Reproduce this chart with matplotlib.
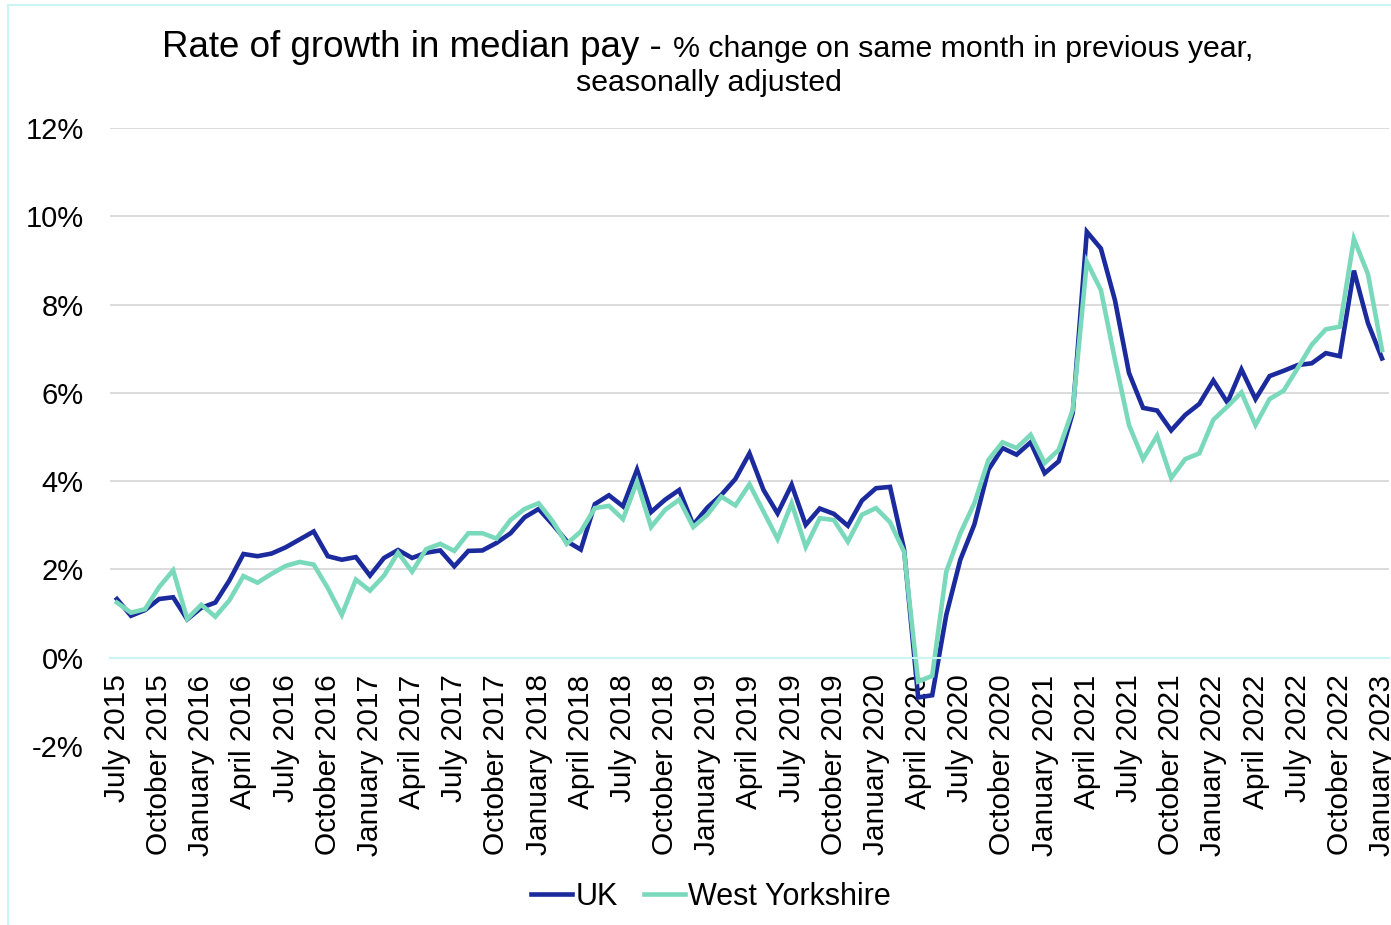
import matplotlib
matplotlib.use("Agg")
import matplotlib.pyplot as plt
import pandas as pd
import numpy as np

plt.rcParams['font.family'] = ['Liberation Sans', 'DejaVu Sans']

# monthly, July 2015 to January 2023
months = pd.period_range("2015-07", "2023-01", freq="M")
month_labels = [p.strftime("%B %Y") for p in months]

uk = [1.33, 0.95, 1.08, 1.33, 1.37, 0.87, 1.13, 1.25, 1.75, 2.35,
      2.30, 2.36, 2.50, 2.68, 2.86, 2.30, 2.22, 2.28, 1.86, 2.26,
      2.44, 2.26, 2.38, 2.43, 2.07, 2.42, 2.43, 2.60, 2.82, 3.18,
      3.37, 3.02, 2.64, 2.45, 3.48, 3.68, 3.43, 4.26, 3.30, 3.58,
      3.80, 3.01, 3.40, 3.69, 4.05, 4.63, 3.80, 3.27, 3.92, 3.01,
      3.38, 3.26, 2.99, 3.56, 3.84, 3.87, 2.45, -0.90, -0.85, 0.97,
      2.22, 3.02, 4.26, 4.75, 4.60, 4.88, 4.18, 4.45, 5.55, 9.65,
      9.27, 8.10, 6.45, 5.66, 5.60, 5.15, 5.50, 5.75, 6.28, 5.78,
      6.53, 5.86, 6.38, 6.50, 6.63, 6.67, 6.90, 6.83, 8.77, 7.58,
      6.78]

west_yorkshire = [1.25, 1.02, 1.10, 1.60, 1.98, 0.88, 1.20, 0.93, 1.30, 1.85,
                  1.70, 1.90, 2.08, 2.17, 2.11, 1.58, 0.97, 1.77, 1.52, 1.86,
                  2.38, 1.95, 2.46, 2.58, 2.42, 2.82, 2.82, 2.70, 3.12, 3.37,
                  3.50, 3.09, 2.58, 2.86, 3.39, 3.44, 3.14, 3.99, 2.96, 3.35,
                  3.58, 2.96, 3.24, 3.65, 3.45, 3.93, 3.31, 2.69, 3.50, 2.51,
                  3.16, 3.12, 2.63, 3.24, 3.39, 3.07, 2.40, -0.54, -0.41, 1.95,
                  2.82, 3.50, 4.48, 4.88, 4.75, 5.05, 4.41, 4.71, 5.62, 8.97,
                  8.33, 6.75, 5.27, 4.50, 5.03, 4.07, 4.50, 4.63, 5.39, 5.69,
                  6.01, 5.27, 5.86, 6.05, 6.56, 7.09, 7.44, 7.50, 9.49, 8.69,
                  6.97]

y_ticks = [-2, 0, 2, 4, 6, 8, 10, 12]

UK_COL = '#1b2a9c'
WY_COL = '#7ad9bb'
CYAN = '#c9f5f3'

fig = plt.figure(figsize=(13.91, 9.25), dpi=100)
ax = fig.add_axes([0.079, 0.1935, 0.9196, 0.6681])

x = np.arange(len(months))
ax.plot(x, uk, color=UK_COL, lw=3.3, label='UK', solid_joinstyle='miter')
ax.plot(x, west_yorkshire, color=WY_COL, lw=3.3, label='West Yorkshire', solid_joinstyle='miter')

ax.set_xlim(-0.5, len(months) - 0.5)
ax.set_ylim(-2, 12)

# y axis
ax.set_yticks(y_ticks)
ax.set_yticklabels([f"{v}%" for v in y_ticks], fontsize=21)
ax.tick_params(axis='y', length=0, pad=19)
ax.yaxis.grid(True, color='#d9d9d9', lw=1.3)
ax.get_ygridlines()[0].set_visible(False)
ax.get_ygridlines()[1].set_visible(False)
ax.set_axisbelow(True)

# x axis crosses at zero
ax.spines['bottom'].set_position(('data', 0))
ax.spines['bottom'].set_color(CYAN)
ax.spines['bottom'].set_linewidth(1.5)
for s in ['top', 'right', 'left']:
    ax.spines[s].set_visible(False)
ax.set_xticks(x[::3])
ax.set_xticklabels(month_labels[::3], rotation=90, fontsize=21.5)
ax.tick_params(axis='x', length=0, pad=12)

# title (two sizes on the first line)
fig.text(0.476, 0.938, "Rate of growth in median pay -", fontsize=26.5, ha='right', va='baseline')
fig.text(0.4835, 0.938, "% change on same month in previous year,", fontsize=21.8, ha='left', va='baseline')
fig.text(0.5094, 0.9016, "seasonally adjusted", fontsize=21.8, ha='center', va='baseline')

leg = fig.legend(loc='center', bbox_to_anchor=(0.511, 1 - 897 / 925), ncol=2, frameon=False,
                 fontsize=22, handlelength=1.35, handletextpad=0.1, columnspacing=0.85)
for h in leg.get_lines():
    h.set_linewidth(3.3)

# light border round the chart
border = plt.Rectangle((8 / 1391, -0.02), 1.0, 1 - 5 / 925 + 0.02, transform=fig.transFigure,
                       fill=False, edgecolor=CYAN, lw=1.5)
fig.patches.append(border)

fig.savefig("out.png", dpi=100)
